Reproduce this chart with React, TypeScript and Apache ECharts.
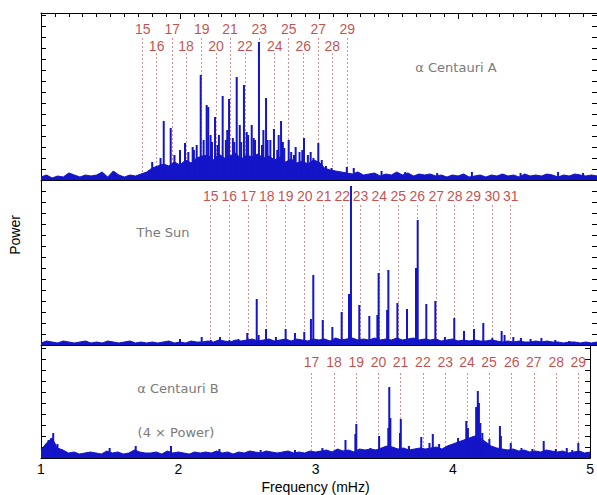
import React, { useEffect, useRef } from "react";
import * as echarts from "echarts";

// ---------------- DATA ----------------
const freqTicks = [1, 2, 3, 4, 5];
const BG_START = 1.0;
const BG_STEP = 0.04;

// alpha Centauri A: background noise level (read every 0.04 mHz from 1.00 to 5.00)
const cenABackground = [
  3, 5, 2, 4, 3, 7, 5, 3, 5, 4,
  5, 8, 3, 9, 5, 3, 5, 4, 6, 8,
  12, 14, 16, 14, 18, 15, 20, 17, 22, 24,
  25, 20, 26, 22, 24, 27, 21, 25, 23, 26,
  22, 24, 20, 23, 18, 21, 17, 19, 16, 20,
  18, 12, 10, 9, 8, 7, 6, 8, 5, 6,
  7, 4, 6, 5, 8, 5, 7, 4, 6, 5,
  6, 4, 5, 3, 5, 4, 6, 3, 4, 5,
  3, 5, 4, 6, 4, 5, 3, 6, 4, 5,
  4, 6, 5, 3, 5, 4, 6, 5, 4, 5, 4,
];
// alpha Centauri A: peaks [frequency mHz, power]
const cenAPeaks: [number, number][] = [
  [1.8, 18], [1.86, 22], [1.883, 59], [1.933, 52], [1.96, 25], [2.0, 30], [2.036, 37],
  [2.06, 28], [2.091, 33], [2.1, 30], [2.12, 35], [2.149, 105], [2.17, 40], [2.192, 75],
  [2.203, 73], [2.22, 45], [2.23, 38], [2.252, 63], [2.27, 35], [2.28, 45], [2.307, 84],
  [2.33, 40], [2.34, 50], [2.353, 81], [2.38, 42], [2.39, 38], [2.408, 103], [2.43, 55],
  [2.44, 38], [2.46, 95], [2.48, 48], [2.49, 45], [2.516, 55], [2.53, 42], [2.54, 40],
  [2.568, 138], [2.59, 35], [2.6, 50], [2.619, 82], [2.63, 40], [2.65, 40], [2.676, 51],
  [2.7, 30], [2.71, 45], [2.727, 59], [2.74, 38], [2.75, 32], [2.782, 40], [2.8, 28],
  [2.82, 25], [2.832, 33], [2.86, 28], [2.88, 30], [2.892, 42], [2.92, 25], [2.94, 28],
  [2.96, 22], [2.995, 37], [3.02, 20], [3.05, 14], [3.09, 12], [3.2, 13], [3.25, 12],
  [3.45, 9], [3.62, 8], [3.85, 7], [4.1, 8], [4.45, 7], [4.72, 8], [4.9, 7],
];
const cenAModes = [15, 16, 17, 18, 19, 20, 21, 22, 23, 24, 25, 26, 27, 28, 29];
const cenAModeFreqs = [1.732, 1.832, 1.945, 2.043, 2.156, 2.259, 2.36, 2.468, 2.571, 2.681, 2.782, 2.887, 2.995, 3.096, 3.204];

// The Sun
const sunBackground = [
  2, 4, 3, 2, 4, 3, 2, 3, 4, 2,
  3, 2, 4, 3, 2, 3, 4, 2, 3, 2,
  3, 2, 3, 4, 2, 3, 2, 4, 3, 3,
  4, 3, 5, 4, 3, 5, 4, 5, 6, 4,
  5, 6, 4, 5, 6, 4, 6, 5, 4, 6,
  5, 6, 4, 7, 5, 6, 7, 5, 6, 5,
  7, 5, 6, 5, 7, 5, 6, 7, 5, 6,
  5, 6, 4, 5, 6, 4, 5, 4, 5, 4,
  4, 5, 4, 3, 4, 3, 4, 3, 3, 4,
  3, 4, 3, 3, 2, 3, 3, 2, 3, 2, 3,
];
const sunPeaks: [number, number][] = [
  [2.0, 6], [2.156, 8], [2.221, 5], [2.288, 8], [2.355, 5], [2.42, 6], [2.484, 12],
  [2.552, 46], [2.566, 10], [2.619, 16], [2.69, 8], [2.76, 16], [2.827, 12], [2.894, 13],
  [2.942, 26], [2.959, 70], [3.027, 25], [3.096, 18], [3.163, 33], [3.216, 51], [3.23, 159],
  [3.29, 40], [3.362, 29], [3.42, 30], [3.429, 72], [3.49, 35], [3.499, 75], [3.564, 42],
  [3.633, 36], [3.698, 77], [3.71, 125], [3.772, 41], [3.837, 44], [3.906, 8], [3.973, 27],
  [4.043, 14], [4.115, 16], [4.182, 22], [4.247, 7], [4.314, 14], [4.335, 10], [4.398, 8],
  [4.453, 7], [4.522, 6], [4.6, 7], [4.7, 5], [4.8, 4],
];
const sunModes = [15, 16, 17, 18, 19, 20, 21, 22, 23, 24, 25, 26, 27, 28, 29, 30, 31];
const sunModeFreqs = [2.221, 2.355, 2.492, 2.624, 2.76, 2.897, 3.034, 3.168, 3.298, 3.434, 3.571, 3.707, 3.844, 3.976, 4.11, 4.247, 4.379];

// alpha Centauri B (4 x power)
const cenBBackground = [
  8, 15, 20, 10, 8, 5, 6, 4, 5, 6,
  5, 4, 7, 5, 6, 4, 5, 8, 6, 5,
  5, 6, 4, 7, 5, 6, 5, 4, 6, 5,
  6, 5, 7, 5, 6, 4, 6, 5, 7, 6,
  5, 7, 6, 5, 6, 7, 5, 6, 5, 7,
  6, 7, 8, 6, 9, 7, 8, 6, 9, 8,
  9, 8, 10, 12, 11, 9, 10, 8, 9, 10,
  9, 10, 11, 9, 12, 14, 16, 18, 20, 22,
  20, 16, 12, 10, 9, 8, 9, 7, 8, 6,
  7, 6, 8, 7, 6, 7, 5, 6, 7, 5, 6,
];
const cenBPeaks: [number, number][] = [
  [1.03, 12], [1.055, 18], [1.075, 20], [1.089, 25], [1.12, 14], [1.5, 10], [1.69, 12],
  [1.947, 12], [2.3, 9], [2.6, 8], [2.85, 8], [3.05, 10], [3.218, 18], [3.29, 24],
  [3.297, 34], [3.4, 10], [3.463, 22], [3.53, 30], [3.537, 71], [3.545, 40], [3.615, 25],
  [3.621, 39], [3.68, 12], [3.77, 21], [3.83, 15], [3.854, 24], [3.9, 14], [3.97, 12],
  [4.038, 20], [4.098, 37], [4.11, 30], [4.17, 51], [4.182, 67], [4.19, 55], [4.2, 35],
  [4.215, 25], [4.266, 19], [4.343, 32], [4.35, 22], [4.422, 15], [4.5, 10], [4.58, 9],
  [4.662, 17], [4.75, 9], [4.83, 10], [4.87, 8], [4.914, 15],
];
const cenBModes = [17, 18, 19, 20, 21, 22, 23, 24, 25, 26, 27, 28, 29];
const cenBModeFreqs = [2.971, 3.134, 3.297, 3.458, 3.619, 3.782, 3.945, 4.103, 4.264, 4.429, 4.59, 4.753, 4.914];

// ---------------- STYLE / LAYOUT ----------------
const BLUE = "#1414c8";
const RED = "#b81e22";
const RED_LINE = "#d89090";
const FONT = "'Liberation Sans', Arial, sans-serif";
const NOTE_FONT = "13px 'DejaVu Sans', sans-serif";

type Panel = {
  bg: number[];
  peaks: [number, number][];
  modes: number[];
  freqs: number[];
  top: number;
  h: number;
  labelY: (n: number) => number;
  lineTop: (n: number) => number;
};

const panels: Panel[] = [
  {
    bg: cenABackground, peaks: cenAPeaks, modes: cenAModes, freqs: cenAModeFreqs,
    top: 13, h: 167,
    labelY: (n) => (n % 2 === 1 ? 151.5 : 134),
    lineTop: (n) => (n % 2 === 1 ? 142 : 127),
  },
  {
    bg: sunBackground, peaks: sunPeaks, modes: sunModes, freqs: sunModeFreqs,
    top: 180, h: 165,
    labelY: () => 149,
    lineTop: () => 140,
  },
  {
    bg: cenBBackground, peaks: cenBPeaks, modes: cenBModes, freqs: cenBModeFreqs,
    top: 345, h: 113,
    labelY: () => 96,
    lineTop: () => 85,
  },
];

function buildOption() {
  const grids = panels.map((p) => ({ left: 41, right: -1, top: p.top, height: p.h }));
  const black = { color: "#000", width: 1 };

  const xAxes: any[] = [];
  const yAxes: any[] = [];
  const series: any[] = [];

  panels.forEach((p, gi) => {
    const isLast = gi === panels.length - 1;
    const bottomIdx = xAxes.length;
    xAxes.push({
      gridIndex: gi,
      type: "value",
      min: freqTicks[0],
      max: freqTicks[freqTicks.length - 1],
      interval: 1,
      position: "bottom",
      axisLine: { show: true, onZero: false, lineStyle: black },
      axisTick: { show: false },
      splitLine: { show: false },
      axisLabel: isLast
        ? { show: true, color: "#000", fontSize: 14, fontFamily: FONT, margin: 4 }
        : { show: false },
      name: isLast ? "Frequency (mHz)" : "",
      nameLocation: "middle",
      nameGap: 22,
      nameTextStyle: { color: "#000", fontSize: 14, fontFamily: FONT },
    });
    if (gi === 0) {
      xAxes.push({
        gridIndex: 0,
        type: "value",
        min: 1,
        max: 5,
        interval: 1,
        position: "top",
        axisLine: { show: true, onZero: false, lineStyle: black },
        axisTick: { show: true, inside: true, length: 6, lineStyle: black },
        minorTick: { show: true, splitNumber: 10, length: 4, lineStyle: black },
        axisLabel: { show: false },
        splitLine: { show: false },
      });
    }
    const leftIdx = yAxes.length;
    const yBase = {
      gridIndex: gi,
      type: "value",
      min: 0,
      max: p.h,
      interval: 11,
      axisLine: { show: true, onZero: false, lineStyle: black },
      axisTick: { show: true, inside: true, length: 5, lineStyle: black },
      axisLabel: { show: false },
      splitLine: { show: false },
    };
    yAxes.push({ ...yBase, position: "left" });
    yAxes.push({ ...yBase, position: "right" });

    // red dotted mode lines
    series.push({
      type: "lines",
      coordinateSystem: "cartesian2d",
      xAxisIndex: bottomIdx,
      yAxisIndex: leftIdx,
      z: 1,
      silent: true,
      lineStyle: { color: RED_LINE, width: 1, type: [2, 2], opacity: 1 },
      data: p.freqs.map((f, i) => ({ coords: [[f, p.lineTop(p.modes[i])], [f, 0]] })),
    });
    // background noise (filled)
    series.push({
      type: "line",
      xAxisIndex: bottomIdx,
      yAxisIndex: leftIdx,
      z: 2,
      silent: true,
      showSymbol: false,
      symbol: "none",
      lineStyle: { color: BLUE, width: 1 },
      areaStyle: { color: BLUE, opacity: 1 },
      data: p.bg.map((v, i) => [+(BG_START + i * BG_STEP).toFixed(2), v]),
    });
    // oscillation peaks
    series.push({
      type: "bar",
      xAxisIndex: bottomIdx,
      yAxisIndex: leftIdx,
      z: 3,
      silent: true,
      barWidth: 2,
      itemStyle: { color: BLUE },
      data: p.peaks,
    });
    // mode labels
    series.push({
      type: "scatter",
      xAxisIndex: bottomIdx,
      yAxisIndex: leftIdx,
      z: 4,
      silent: true,
      symbolSize: 1,
      itemStyle: { color: "rgba(0,0,0,0)" },
      label: {
        show: true,
        position: "inside",
        color: RED,
        fontSize: 14,
        fontFamily: FONT,
        formatter: (prm: any) => String(prm.value[2]),
      },
      data: p.freqs.map((f, i) => [f, p.labelY(p.modes[i]), p.modes[i]]),
    });
  });

  const gray = "#7a7a7a";
  const graphic = [
    { type: "text", x: 15, y: 235, rotation: Math.PI / 2, style: { text: "Power", font: `14px ${FONT}`, fill: "#000", align: "center", verticalAlign: "middle" } },
    { type: "text", x: 456, y: 67, style: { text: "α Centauri A", font: NOTE_FONT, fill: gray, align: "center", verticalAlign: "middle" } },
    { type: "text", x: 163, y: 232, style: { text: "The Sun", font: NOTE_FONT, fill: gray, align: "center", verticalAlign: "middle" } },
    { type: "text", x: 178, y: 388, style: { text: "α Centauri B", font: NOTE_FONT, fill: gray, align: "center", verticalAlign: "middle" } },
    { type: "text", x: 176, y: 432, style: { text: "(4 × Power)", font: NOTE_FONT, fill: gray, align: "center", verticalAlign: "middle" } },
  ];

  return {
    animation: false,
    backgroundColor: "#fff",
    grid: grids,
    xAxis: xAxes,
    yAxis: yAxes,
    series,
    graphic,
  };
}

export default function App() {
  const ref = useRef<HTMLDivElement>(null);
  useEffect(() => {
    document.body.style.margin = "0";
    if (!ref.current) return;
    const chart = echarts.init(ref.current, undefined, { renderer: "svg" });
    chart.setOption(buildOption() as any);
    return () => chart.dispose();
  }, []);
  return <div ref={ref} style={{ width: 597, height: 495 }} />;
}
